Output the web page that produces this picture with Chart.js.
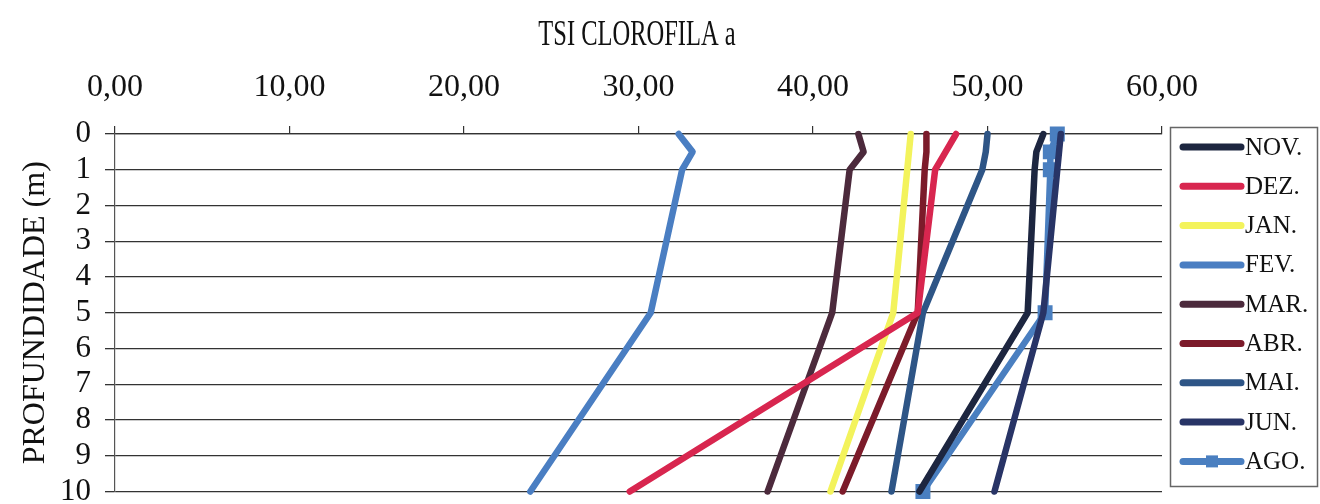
<!DOCTYPE html>
<html>
<head>
<meta charset="utf-8">
<title>TSI CLOROFILA a</title>
<script src="https://cdn.jsdelivr.net/npm/chart.js@4.4.1/dist/chart.umd.min.js"></script>
<style>
  html, body { margin: 0; padding: 0; background: #fff; }
  #wrap { width: 1320px; height: 504px; }
</style>
</head>
<body>
<div id="wrap"><canvas id="tsiChart" width="1320" height="504"></canvas></div>
<script>
// profundidade (m) das amostras
var depths = [0, 0.5, 1, 5, 10];

// TSI clorofila a por mes, na ordem das profundidades
var months = ['NOV.', 'DEZ.', 'JAN.', 'FEV.', 'MAR.', 'ABR.', 'MAI.', 'JUN.', 'AGO.'];
var nov = [53.2, 52.8, 52.7, 52.3, 46.1];
var dez = [48.2, 47.6, 47.0, 46.0, 29.5];
var jan = [45.6, 45.5, 45.4, 44.6, 41.0];
var fev = [32.3, 33.1, 32.5, 30.7, 23.8];
var mar = [42.6, 42.9, 42.1, 41.1, 37.4];
var abr = [46.5, 46.5, 46.4, 46.0, 41.7];
var mai = [50.0, 49.9, 49.7, 46.3, 44.5];
var jun = [54.2, 54.1, 54.0, 53.2, 50.4];
var ago = [54.0, 53.6, 53.6, 53.3, 46.3];

var xTicks = [0, 10, 20, 30, 40, 50, 60];
var yTicks = [0, 1, 2, 3, 4, 5, 6, 7, 8, 9, 10];

var seriesValues = [nov, dez, jan, fev, mar, abr, mai, jun, ago];
var colors = ['#1d2640', '#d8264f', '#f3f35c', '#4a7ec2', '#4c2a3c', '#7c1b2a', '#2e5586', '#283466', '#4a7fc0'];

var FONT = "'Liberation Serif', 'Times New Roman', serif";

function buildDatasets() {
  var sets = [];
  for (var i = 0; i < months.length; i++) {
    var pts = [];
    for (var j = 0; j < depths.length; j++) {
      pts.push({ x: seriesValues[i][j], y: depths[j] });
    }
    var isAgo = months[i] === 'AGO.';
    sets.push({
      label: months[i],
      data: pts,
      borderColor: colors[i],
      backgroundColor: colors[i],
      borderWidth: 6.5,
      borderCapStyle: 'round',
      borderJoinStyle: 'round',
      showLine: true,
      tension: 0,
      pointStyle: 'rect',
      pointRadius: isAgo ? 6 : 0,
      pointHoverRadius: isAgo ? 6 : 0,
      clip: 10
    });
  }
  return sets;
}

function fmt(v) {
  return v.toFixed(2).replace('.', ',');
}

// titulo e legenda com moldura
var decorPlugin = {
  id: 'decor',
  afterDraw: function (chart) {
    var ctx = chart.ctx;
    ctx.save();
    ctx.fillStyle = '#111';
    ctx.font = '35px ' + FONT;
    ctx.textAlign = 'center';
    ctx.textBaseline = 'middle';
    ctx.save();
    ctx.translate(637, 36);
    ctx.scale(0.7, 1);
    ctx.fillText('TSI CLOROFILA a', 0, 0);
    ctx.restore();

    ctx.strokeStyle = '#666';
    ctx.lineWidth = 1.5;
    ctx.strokeRect(1170.5, 127.5, 147, 359);

    ctx.font = '25px ' + FONT;
    ctx.textAlign = 'left';
    for (var i = 0; i < months.length; i++) {
      var y = 147 + i * 39.3;
      ctx.strokeStyle = colors[i];
      ctx.lineWidth = 7;
      ctx.lineCap = 'round';
      ctx.beginPath();
      ctx.moveTo(1183, y);
      ctx.lineTo(1241, y);
      ctx.stroke();
      if (months[i] === 'AGO.') {
        ctx.fillStyle = colors[i];
        ctx.fillRect(1206, y - 6, 12, 12);
      }
      ctx.fillStyle = '#111';
      ctx.fillText(months[i], 1245, y + 1);
    }
    ctx.restore();
  }
};

var ctx = document.getElementById('tsiChart');
var chart = new Chart(ctx, {
  type: 'scatter',
  data: { datasets: buildDatasets() },
  options: {
    responsive: false,
    animation: false,
    layout: { padding: { left: 0, top: 0, right: 158, bottom: 12 } },
    plugins: {
      legend: { display: false },
      tooltip: { enabled: false }
    },
    scales: {
      x: {
        type: 'linear',
        position: 'top',
        min: 0,
        max: 60,
        afterFit: function (scale) {
          scale.height = 134;
          scale.paddingLeft = 0;
          scale.paddingRight = 0;
        },
        afterBuildTicks: function (scale) {
          scale.ticks = xTicks.map(function (v) { return { value: v }; });
        },
        ticks: {
          callback: function (v) { return fmt(v); },
          font: { family: FONT, size: 32 },
          color: '#111',
          padding: 19,
          maxRotation: 0,
          autoSkip: false
        },
        grid: { drawOnChartArea: false, drawTicks: true, tickLength: 8, color: '#333', lineWidth: 1.2 },
        border: { display: true, color: '#333', width: 1.2 }
      },
      y: {
        type: 'linear',
        reverse: true,
        min: 0,
        max: 10,
        afterFit: function (scale) {
          scale.width = 115;
          scale.paddingTop = 0;
          scale.paddingBottom = 0;
        },
        afterBuildTicks: function (scale) {
          scale.ticks = yTicks.map(function (v) { return { value: v }; });
        },
        ticks: {
          font: { family: FONT, size: 31 },
          color: '#111',
          padding: 14,
          autoSkip: false
        },
        title: {
          display: true,
          text: 'PROFUNDIDADE (m)',
          font: { family: FONT, size: 32 },
          color: '#111',
          padding: { top: 16, bottom: 0 }
        },
        grid: { drawOnChartArea: true, drawTicks: true, tickLength: 10, color: '#333', lineWidth: 1.3 },
        border: { display: true, color: '#555', width: 1.2 }
      }
    }
  },
  plugins: [decorPlugin]
});
</script>
</body>
</html>
